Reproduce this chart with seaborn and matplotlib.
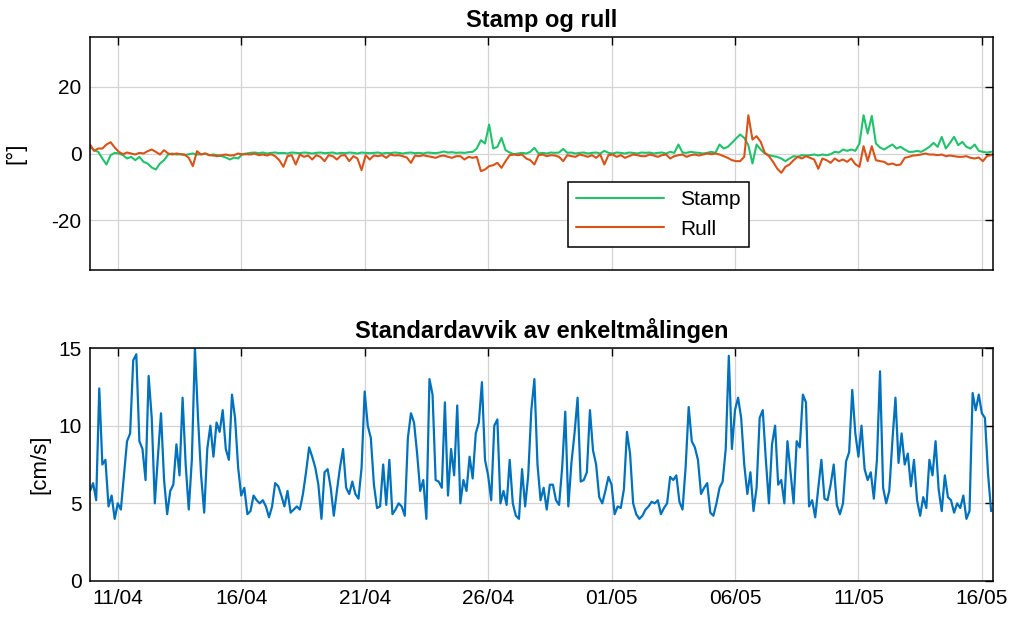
import pandas as pd
import matplotlib
matplotlib.use('Agg')
import matplotlib.pyplot as plt
import seaborn as sns

start = '2021-04-09 21:00'

# Stamp og rull, hver 4. time [grader]
stamp = [2.0, 1.0, 0.5, -1.5, -3.3, -0.5, 0.2, 0.0, -0.5, -1.5,
         -1.0, -2.0, -1.0, -2.5, -3.0, -4.2, -4.8, -3.0, -2.0, -0.3,
         0.0, -0.3, -0.2, -0.5, -0.2, 0.0, -0.3, -0.2, 0.0, -0.5,
         -0.3, -0.5, -0.8, -1.2, -1.8, -1.2, -1.5, -0.2, 0.0,
         0.2, 0.3, 0.1, 0.3, 0.0, 0.2, 0.3, 0.1, 0.2, 0.0, 0.3,
         0.2, 0.1, 0.3, 0.2, 0.0, 0.2, 0.3, 0.1, 0.2, 0.3,
         0.0, 0.2, 0.1, 0.3, 0.2, 0.0, 0.3, 0.2, 0.1, 0.2,
         0.3, 0.0, 0.2, 0.1, 0.3, 0.2, 0.0, 0.2, 0.3, 0.1,
         0.2, 0.0, 0.3, 0.2, 0.1, 0.3,
         0.6, 0.3, 0.4, 0.2, 0.3, 0.2, 0.4, 0.5,
         1.5, 4.0, 3.0, 8.7, 1.5, 2.0, 4.7, 1.0, 0.3, -0.2, 0.0, 0.2, 0.0, 0.5, 1.7, 0.0,
         0.2, 0.0, 0.3, 0.2, 0.3, 1.4, 0.2, 0.3, 0.0, 0.2,
         0.3, 0.0, 0.2, 0.3, 0.0, 0.8, 0.2, 0.0, 0.3, 0.2,
         0.0, 0.3, 0.2, 0.0, 0.3, 0.2, 0.3, 0.0, 0.2, 0.3,
         0.0, 0.5, 0.2, 2.7, 0.3, 0.2, 0.5, 0.3, 0.2, 0.0,
         0.2, 0.5, 0.2, 2.7, 1.5, 2.0, 3.2, 4.5, 5.7, 4.7,
         2.5, -3.0, 2.7, 1.2, 0.0, -0.5, -0.8, -1.0, -1.5, -2.3,
         -1.5, -0.8, -1.0, -0.5, -0.6, -0.5, -0.3, -0.6, -0.3, -0.5,
         -0.2, 0.5, 0.3, 1.2, 0.8, 1.2, 0.8, 3.0, 11.5, 6.0,
         11.3, 3.0, 1.8, 1.2, 2.0, 2.7, 1.5, 2.0, 1.2, 0.5,
         0.5, 0.8, 0.5, 1.2, 2.0, 3.2, 2.0, 5.0, 1.5, 3.2,
         5.0, 2.5, 3.5, 2.0, 1.5, 2.7, 0.8, 0.5, 0.3, 0.5]

rull = [2.7, 0.8, 1.5, 1.5, 2.7, 3.4, 1.8, 0.5, -0.2, 0.3,
        0.0, -0.3, 0.2, 0.0, 0.7, 1.2, 0.5, -0.3, 1.0, 0.0,
        -0.3, 0.0, -0.2, -0.3, -1.3, -3.8, 0.7, -0.3, 0.0, -0.5,
        -0.6, -0.8, -0.5, -0.3, -0.6, -0.5, 0.0, -0.3, -0.2, -0.3,
        0.0, -0.5, -0.3, -0.6, -0.2, -0.8, -2.0, -4.0, -0.8, -0.5,
        -3.3, -0.3, -1.0, -0.6, -1.8, -0.5, -1.0, -2.3, -0.5, -0.8,
        -1.8, -0.6, -0.5, -2.3, -0.8, -1.5, -5.0, -0.5, -1.8, -0.6,
        -0.8, -0.5, -1.3, -0.3, -0.6, -0.5, -0.8, -1.2, -2.8, -0.6,
        -0.8, -0.5, -0.8, -1.0, -1.3, -0.8, -0.6, -1.0, -1.3, -0.8,
        -0.8, -1.8, -1.0, -1.3, -1.0, -5.3, -4.8, -3.8, -3.5, -2.8,
        -4.3, -2.3, -0.5, -0.3, -0.5, -0.3, -1.5, -2.0, -3.3, -0.5,
        -0.3, -0.8, -0.5, -0.6, -1.0, -2.3, -0.5, -0.8, -1.0, -0.3,
        -0.6, -1.0, -0.5, -1.3, -0.3, -3.3, -0.5, -0.3, -1.0, -0.5,
        -1.3, -0.8, -0.3, -0.5, -0.8, -0.8, -0.3, -0.6, -1.0, -0.5,
        -0.3, -1.5, -0.8, -0.5, -0.3, -1.0, -0.5, -0.3, -0.6, -0.3,
        0.0, -0.2, 0.0, -0.3, -0.8, -1.3, -2.0, -2.3, -2.3, -1.0,
        11.5, 4.2, 5.2, 3.5, 0.2, -0.8, -2.5, -4.5, -5.8, -4.0,
        -3.3, -2.0, -1.0, -1.5, -0.8, -1.3, -1.8, -4.6, -1.5, -2.0,
        -2.8, -1.5, -2.3, -1.8, -2.5, -1.5, -3.2, -4.0, 2.2, -2.3,
        2.2, -2.0, -2.3, -2.5, -3.3, -3.0, -3.5, -3.3, -1.3, -1.0,
        -0.6, -0.5, -0.3, 0.0, -0.3, -0.3, -0.5, -0.3, -0.8, -0.6,
        -0.8, -1.0, -1.0, -0.8, -1.3, -1.5, -1.2, -2.3, -0.8, -0.5]

# Standardavvik, hver 3. time [cm/s]
std_dev = [5.8, 6.3, 5.2, 12.4, 7.5, 7.8, 4.8, 5.5, 4.0, 5.0,
           4.6, 6.8, 9.0, 9.5, 14.2, 14.6, 9.0, 8.5, 6.5, 13.2,
           10.5, 5.0, 8.0, 10.8, 6.5, 4.3, 5.8, 6.2, 8.8, 6.8,
           11.8, 7.5, 4.6, 7.8, 15.0, 10.5, 6.8, 4.4, 8.5, 10.0,
           8.0, 10.2, 9.6, 11.0, 8.5, 7.8, 12.0, 10.5, 7.3, 5.5,
           6.0, 4.3, 4.5, 5.5, 5.2, 5.0, 5.2, 4.8, 4.1, 4.8,
           6.3, 6.1, 5.5, 4.8, 5.8, 4.4, 4.6, 4.8, 4.6, 5.6,
           7.0, 8.6, 8.0, 7.3, 6.2, 4.0, 7.0, 7.2, 6.0, 4.2,
           5.8, 7.3, 8.5, 6.0, 5.6, 6.4, 5.6, 5.3, 7.3, 12.2,
           10.0, 9.2, 6.2, 4.7, 4.8, 7.5, 4.9, 7.8, 4.3,
           4.6, 5.0, 4.8, 4.2, 9.2, 10.8, 10.2, 8.2, 5.8, 6.5,
           4.0, 13.0, 12.0, 6.5, 6.4, 6.0, 11.5, 5.5, 8.5, 6.8,
           11.3, 5.0, 6.5, 5.8, 8.0, 6.6, 9.5, 10.2, 12.8, 7.8,
           6.8, 5.2, 10.0, 10.4, 5.0, 5.8, 4.9, 7.8, 5.0, 4.2,
           4.0, 7.2, 4.8, 6.8, 11.0, 13.0, 7.5, 5.2, 6.0,
           4.6, 6.2, 6.2, 5.2, 4.9, 7.3, 10.9, 4.8, 7.6, 9.5,
           11.8, 6.4, 6.5, 7.0, 11.0, 8.4, 7.5, 5.4, 5.0, 5.8,
           6.7, 6.2, 4.3, 4.8, 4.7, 5.9, 9.6, 8.2, 5.0, 4.3,
           4.0, 4.2, 4.6, 4.8, 5.1, 5.0, 5.2, 4.3, 4.7, 5.0,
           6.7, 6.5, 6.8, 5.1, 4.6, 7.3, 11.2, 9.0, 8.6,
           7.8, 5.6, 6.0, 6.3, 4.4, 4.2, 5.0, 6.0, 6.4, 8.5,
           14.5, 8.5, 11.0, 11.8, 10.5, 7.5, 5.6, 7.0, 4.5, 6.0,
           10.5, 11.0, 7.8, 5.0, 8.8, 10.0, 6.2, 6.5, 5.0, 9.0,
           7.0, 5.0, 9.0, 8.6, 12.0, 11.5, 4.8, 5.2, 4.1, 6.0,
           7.8, 5.3, 5.2, 6.2, 7.5, 4.9, 4.3, 5.0, 7.7, 8.3,
           12.3, 9.5, 8.0, 10.0, 7.2, 6.5, 7.0, 5.3, 7.8, 13.5,
           6.0, 5.0, 5.8, 9.0, 11.8, 7.6, 9.5, 7.5, 8.2, 6.1,
           7.8, 5.2, 4.2, 5.4, 4.7, 7.8, 6.8, 9.0, 5.9, 4.5,
           6.8, 5.4, 5.2, 4.4, 5.0, 4.7, 5.5, 4.0, 4.5, 12.1,
           11.0, 12.0, 10.8, 10.5, 6.9, 4.5]

tick_dates = ['2021-04-11', '2021-04-16', '2021-04-21', '2021-04-26',
              '2021-05-01', '2021-05-06', '2021-05-11', '2021-05-16']
tick_labels = ['11/04', '16/04', '21/04', '26/04', '01/05', '06/05', '11/05', '16/05']

sns.set_theme(style='white')
plt.rcParams['font.family'] = ['Liberation Sans', 'DejaVu Sans']
plt.rcParams['text.color'] = 'black'
plt.rcParams['axes.labelcolor'] = 'black'

vinkel = pd.DataFrame({'tid': pd.date_range(start, periods=len(stamp), freq='4h'),
                       'Stamp': stamp, 'Rull': rull})
avvik = pd.DataFrame({'tid': pd.date_range(start, periods=len(std_dev), freq='3h'),
                      'std': std_dev})

fig = plt.figure(figsize=(10.24, 6.19), dpi=100)
ax1 = fig.add_axes([0.0879, 0.5638, 0.882, 0.3764])
ax2 = fig.add_axes([0.0879, 0.0614, 0.882, 0.3764])

sns.lineplot(data=vinkel, x='tid', y='Stamp', ax=ax1, color='#21c26b', lw=1.5, label='Stamp')
sns.lineplot(data=vinkel, x='tid', y='Rull', ax=ax1, color='#d95319', lw=1.5, label='Rull')
sns.lineplot(data=avvik, x='tid', y='std', ax=ax2, color='#0072bd', lw=1.6)

ticks = pd.to_datetime(tick_dates)
xlim = (pd.Timestamp('2021-04-09 21:00'), pd.Timestamp('2021-05-16 11:00'))

for ax in (ax1, ax2):
    ax.set_xlim(xlim)
    ax.set_xticks(ticks)
    ax.set_xticklabels(tick_labels)
    ax.grid(True, color='#d4d4d4', lw=0.9)
    ax.tick_params(direction='in', top=True, right=True, length=6, width=1,
                   labelsize=15, colors='black', pad=6)
    for s in ax.spines.values():
        s.set_color('black')
        s.set_linewidth(1.1)
    ax.set_xlabel('')

ax1.set_ylim(-35, 35)
ax1.set_yticks([-20, 0, 20])
ax1.set_yticklabels(['-20', '0', '20'])
ax1.tick_params(labelbottom=False)
ax1.set_ylabel('[°]', fontsize=16)
ax1.yaxis.set_label_coords(-0.07, 0.5)
ax1.set_title('Stamp og rull', fontsize=17, fontweight='bold', pad=7, color='black')
ax1.legend(loc='lower left', bbox_to_anchor=(0.529, 0.099), borderaxespad=0,
           frameon=True, fancybox=False, edgecolor='black', fontsize=15,
           handlelength=4.2, framealpha=1).get_frame().set_linewidth(1.1)

ax2.set_ylim(0, 15)
ax2.set_yticks([0, 5, 10, 15])
ax2.set_ylabel('[cm/s]', fontsize=16)
ax2.yaxis.set_label_coords(-0.044, 0.5)
ax2.set_title('Standardavvik av enkeltmålingen', fontsize=17, fontweight='bold', pad=7,
              color='black')

fig.savefig('out.png', dpi=100)
